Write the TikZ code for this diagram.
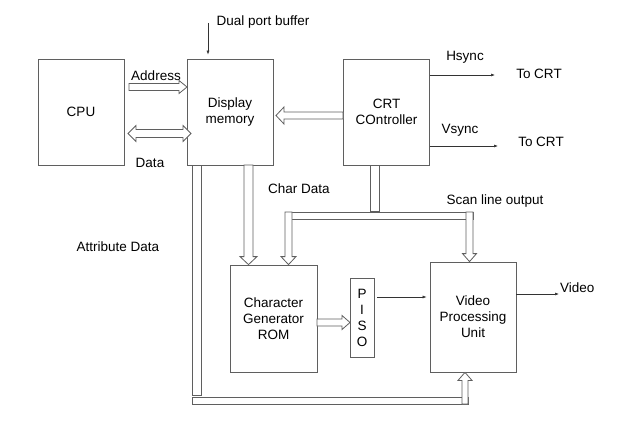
\documentclass[tikz,border=0pt]{standalone}
\usepackage{fontspec}
\setmainfont{Liberation Sans}
\usepackage{tikz}
\usetikzlibrary{positioning, arrows.meta, calc}
\definecolor{blockLine}{HTML}{5F5F5F}
\definecolor{sigLine} {HTML}{333333}
\newcommand{\lbl}{\fontsize{13.5}{16}\selectfont}
% hollow bus: half width, wing, from, to
\newcommand{\busto}[4]{%
  \coordinate (bh) at ($(#4)!8pt!(#3)$);
  \draw[bus] ($(#3)!#1!90:(#4)$) -- ($(bh)!#1!90:(#4)$) -- ($(bh)!#2!90:(#4)$)
    -- (#4) -- ($(bh)!#2!-90:(#4)$) -- ($(bh)!#1!-90:(#4)$)
    -- ($(#3)!#1!-90:(#4)$) -- cycle;}
\newcommand{\busboth}[4]{%
  \coordinate (ba) at ($(#3)!8pt!(#4)$);
  \coordinate (bb) at ($(#4)!8pt!(#3)$);
  \draw[bus] (#3) -- ($(ba)!#2!90:(#4)$) -- ($(ba)!#1!90:(#4)$)
    -- ($(bb)!#1!-90:(#3)$) -- ($(bb)!#2!-90:(#3)$) -- (#4)
    -- ($(bb)!#2!90:(#3)$) -- ($(bb)!#1!90:(#3)$)
    -- ($(ba)!#1!-90:(#4)$) -- ($(ba)!#2!-90:(#4)$) -- cycle;}
\newcommand{\busbar}[3]{%
  \draw[bus] ($(#2)!#1!90:(#3)$) -- ($(#3)!#1!-90:(#2)$)
    -- ($(#3)!#1!90:(#2)$) -- ($(#2)!#1!-90:(#3)$) -- cycle;}

\begin{document}
\begin{tikzpicture}[x=1pt, y=-1pt,
    block/.style={draw=blockLine, line width=0.8pt, minimum width=86pt,
                  minimum height=106pt, align=center, inner sep=0pt, font=\lbl},
    txt/.style={inner sep=0pt, font=\lbl},
    sig/.style={-{Latex[length=4pt, width=3pt]}, line width=0.6pt, draw=sigLine},
    bus/.style={draw=blockLine, line width=0.8pt, fill=white, line join=miter}]
  \useasboundingbox (0,0) rectangle (629,436);

  \node[block] (cpu) at (81,112) {CPU};
  \node[block] (dm)  at (230,112) {Display\\memory};
  \node[block] (crt) at (386.5,112) {CRT\\COntroller};
  \node[block, minimum width=87pt, minimum height=107pt]
    (cgrom) at (273.5,318.5) {Character\\Generator\\ROM};
  \node[block, minimum width=24pt, minimum height=79pt]
    (piso) at (362,317.5) {P\\I\\S\\O};
  \node[block, minimum height=110pt]
    (vpu) at (473,317) {Video\\Processing\\Unit};

  \node[txt] (dualLbl) at (263,22)  {Dual port buffer};
  \node[txt] (addrLbl) at (156,76)  {Address};
  \node[txt] (dataLbl) at (150,163) {Data};
  \node[txt] (hsLbl)   at (465,57)  {Hsync};
  \node[txt] (hsCrt)   at (539,74)  {To CRT};
  \node[txt] (vsLbl)   at (460,130) {Vsync};
  \node[txt] (vsCrt)   at (541,142) {To CRT};
  \node[txt] (charLbl) at (299,189) {Char Data};
  \node[txt] (scanLbl) at (495,201) {Scan line output};
  \node[txt] (attrLbl) at (118,247) {Attribute Data};
  \node[txt, anchor=west] (videoLbl) at (560,288) {Video};

  \coordinate (dualTail) at (208,23);
  \draw[sig, shorten >=4pt] (dualTail) -- (dualTail |- dm.north);
  \coordinate (hsEnd) at (495,75);
  \draw[sig] (crt.east |- hsEnd) -- (hsEnd);
  \coordinate (vsEnd) at (498,146);
  \draw[sig] (crt.east |- vsEnd) -- (vsEnd);
  \coordinate (pisoOut) at (377,297);
  \draw[sig, shorten >=3pt] (pisoOut) -- (vpu.west |- pisoOut);
  \coordinate (videoEnd) at (559,294);
  \draw[sig] (vpu.east |- videoEnd) -- (videoEnd);

  \coordinate (addrTail) at (129,87);
  \coordinate (addrTip)  at (187,87);
  \busto{3.5pt}{6.5pt}{addrTail}{addrTip}
  \coordinate (dataL) at (128,133.5);
  \coordinate (dataR) at (191,133.5);
  \busboth{4pt}{8pt}{dataL}{dataR}
  \coordinate (crtTail) at (343,115.5);
  \coordinate (crtTip)  at (276,115.5);
  \busto{3.5pt}{8.5pt}{crtTail}{crtTip}
  \coordinate (pisoTail) at (317,322.5);
  \coordinate (pisoTip)  at (350,322.5);
  \busto{3.5pt}{7pt}{pisoTail}{pisoTip}

  \coordinate (charTop) at (248.5,165);
  \coordinate (charTip) at (cgrom.north -| charTop);
  \busto{4.5pt}{8.5pt}{charTop}{charTip}

  \coordinate (scanTop) at (374.5,165);
  \coordinate (scanBot) at (374.5,211.5);
  \busbar{4.5pt}{scanTop}{scanBot}
  \coordinate (scanL) at (285,215.5);
  \coordinate (scanR) at (473,215.5);
  \busbar{3.5pt}{scanL}{scanR}
  \coordinate (scanDownL) at (288.5,212);
  \busto{3.5pt}{7.5pt}{scanDownL}{cgrom.north -| scanDownL}
  \coordinate (scanDownR) at (469.5,212);
  \busto{3.5pt}{7pt}{scanDownR}{vpu.north -| scanDownR}

  \coordinate (attrTop) at (196.5,165);
  \coordinate (attrBot) at (196.5,395.5);
  \busbar{4.5pt}{attrTop}{attrBot}
  \coordinate (attrL) at (192,400.5);
  \coordinate (attrR) at (468,400.5);
  \busbar{3.5pt}{attrL}{attrR}
  \coordinate (attrUp) at (465,404);
  \busto{3pt}{7pt}{attrUp}{vpu.south -| attrUp}
\end{tikzpicture}
\end{document}
